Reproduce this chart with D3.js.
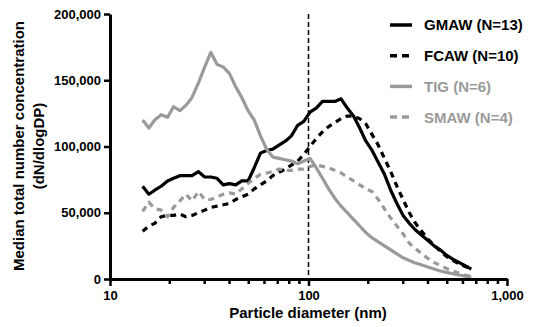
<!DOCTYPE html>
<html>
<head>
<meta charset="utf-8">
<script src="https://cdn.jsdelivr.net/npm/d3@7"></script>
<style>
  body { margin: 0; background: #fff; }
  svg { display: block; font-family: "Liberation Sans", Arial, sans-serif; font-weight: bold; }
</style>
</head>
<body>
<svg id="chart" width="534" height="327"></svg>
<script>
// particle diameter (nm), shared by all series
const diameters = [14.6, 15.7, 16.8, 18.1, 19.5, 20.9, 22.5, 24.1, 25.9, 27.9,
  30.0, 32.2, 34.6, 37.2, 40.0, 43.0, 46.1, 49.6, 53.3, 57.3,
  61.5, 66.1, 71.0, 76.4, 82.0, 88.2, 94.7, 101.8, 109.4, 117.6,
  126.3, 135.7, 145.9, 156.8, 168.5, 181.1, 194.6, 209.1, 224.7, 241.4,
  259.5, 278.8, 299.6, 322.0, 346.0, 371.8, 399.6, 429.4, 461.4, 495.8,
  532.8, 572.5, 615.1, 661.2];

// median dN/dlogDP, in thousands
const gmaw = [70, 64, 67, 70, 74, 76, 78, 78, 78, 81,
  77, 77, 76, 71, 72, 71, 74, 74, 84, 95,
  97, 98, 101, 104, 108, 116, 119, 126, 129, 134,
  134, 134, 136, 129, 123, 114, 104, 97, 88, 79,
  67, 57, 48, 42, 37, 33, 29, 25, 22, 18,
  15, 12.5, 10, 7.5];
const fcaw = [36, 40, 42, 47, 48, 48, 49, 47, 48, 50,
  52, 54, 55, 56, 57, 60, 62, 64, 68, 71,
  74, 78, 80.5, 83, 86, 89, 94, 100, 106, 111,
  115, 118, 121, 123, 123, 121, 117, 109, 101, 91,
  81, 70, 60, 50, 42, 36, 30, 25.5, 21, 17,
  14, 11.5, 9.5, 8];
const tig = [120, 114, 120, 124, 122, 130, 127, 131, 137, 148,
  160, 171, 162, 160, 155, 145, 137, 127, 120, 108,
  98, 92, 91, 90, 89, 87, 89, 91, 84, 76,
  68, 61, 55, 50, 45, 40, 35, 31, 28, 25,
  22, 19, 16, 14, 12, 10.5, 9, 7.5, 6, 5,
  4, 3, 2.2, 1.5];
const smaw = [51, 58, 53, 52, 47, 54, 59, 64, 59, 66,
  60, 60, 62, 64, 65, 64, 68, 72, 76, 79,
  80, 81, 83, 82, 82, 83, 83, 85, 86, 85,
  84, 82, 80, 77, 74, 71, 68, 66, 60, 53,
  46, 40, 34, 27, 23, 19, 15.5, 12.5, 10, 8,
  6, 4.5, 3, 2];

const seriesNames = ["GMAW (N=13)", "FCAW (N=10)", "TIG (N=6)", "SMAW (N=4)"];
const seriesValues = [gmaw, fcaw, tig, smaw];
const seriesColors = ["#000000", "#000000", "#9a9a9a", "#9a9a9a"];
const seriesDashed = [false, true, false, true];

const xMajorTicks = [10, 100, 1000];
const xMinorTicks = [20, 30, 40, 50, 60, 70, 80, 90, 200, 300, 400, 500, 600, 700, 800, 900];
const yTicks = [0, 50000, 100000, 150000, 200000];
const cutoff = 100;

const svg = d3.select("#chart");

const x = d3.scaleLog().domain([10, 1000]).range([110, 507]);
const y = d3.scaleLinear().domain([0, 200000]).range([279, 14]);

// cutoff line at 100 nm
svg.append("line")
  .attr("x1", x(cutoff)).attr("x2", x(cutoff))
  .attr("y1", y(200000)).attr("y2", y(0))
  .attr("stroke", "#000")
  .attr("stroke-width", 1.5)
  .attr("stroke-dasharray", "5,3");

// series lines
const line = d3.line()
  .x((d) => x(d[0]))
  .y((d) => y(d[1] * 1000));

seriesValues.forEach((vals, i) => {
  const pts = diameters.map((dm, j) => [dm, vals[j]]);
  svg.append("path")
    .datum(pts)
    .attr("fill", "none")
    .attr("stroke", seriesColors[i])
    .attr("stroke-width", 3.2)
    .attr("stroke-linejoin", "round")
    .attr("stroke-dasharray", seriesDashed[i] ? "6,5" : null)
    .attr("d", line);
});

// x axis
const xAxis = svg.append("g")
  .attr("transform", `translate(0,${y(0)})`)
  .call(d3.axisBottom(x)
    .tickValues(xMajorTicks)
    .tickFormat(d3.format(","))
    .tickSize(7)
    .tickSizeOuter(0)
    .tickPadding(5));

svg.append("g")
  .attr("transform", `translate(0,${y(0)})`)
  .selectAll("line")
  .data(xMinorTicks)
  .join("line")
  .attr("x1", (d) => x(d)).attr("x2", (d) => x(d))
  .attr("y1", 0).attr("y2", 5)
  .attr("stroke", "#000")
  .attr("stroke-width", 2.5);

// y axis
const yAxis = svg.append("g")
  .attr("transform", `translate(${x(10)},0)`)
  .call(d3.axisLeft(y)
    .tickValues(yTicks)
    .tickFormat(d3.format(","))
    .tickSize(6)
    .tickSizeOuter(0)
    .tickPadding(3));

[xAxis, yAxis].forEach((g) => {
  g.select(".domain").attr("stroke-width", 3);
  g.selectAll(".tick line").attr("stroke-width", 2.5);
  g.selectAll(".tick text")
    .attr("font-family", "'Liberation Sans', Arial, sans-serif")
    .attr("font-weight", "bold")
    .attr("font-size", 13)
    .attr("fill", "#000");
});

// axis titles
svg.append("text")
  .attr("x", 308).attr("y", 318)
  .attr("text-anchor", "middle")
  .attr("font-size", 15)
  .text("Particle diameter (nm)");

svg.append("text")
  .attr("transform", "translate(24,146) rotate(-90)")
  .attr("text-anchor", "middle")
  .attr("font-size", 15)
  .text("Median total number concentration");

svg.append("text")
  .attr("transform", "translate(44,146) rotate(-90)")
  .attr("text-anchor", "middle")
  .attr("font-size", 15)
  .text("(dN/dlogDP)");

// legend
const legend = svg.append("g");
seriesNames.forEach((name, i) => {
  const ly = 25 + i * 30.7;
  legend.append("line")
    .attr("x1", 390).attr("x2", 412)
    .attr("y1", ly).attr("y2", ly)
    .attr("stroke", seriesColors[i])
    .attr("stroke-width", 3.5)
    .attr("stroke-dasharray", seriesDashed[i] ? "7,5" : null);
  legend.append("text")
    .attr("x", 424).attr("y", ly)
    .attr("dy", "0.36em")
    .attr("font-size", 15)
    .attr("fill", seriesColors[i])
    .text(name);
});
</script>
</body>
</html>
